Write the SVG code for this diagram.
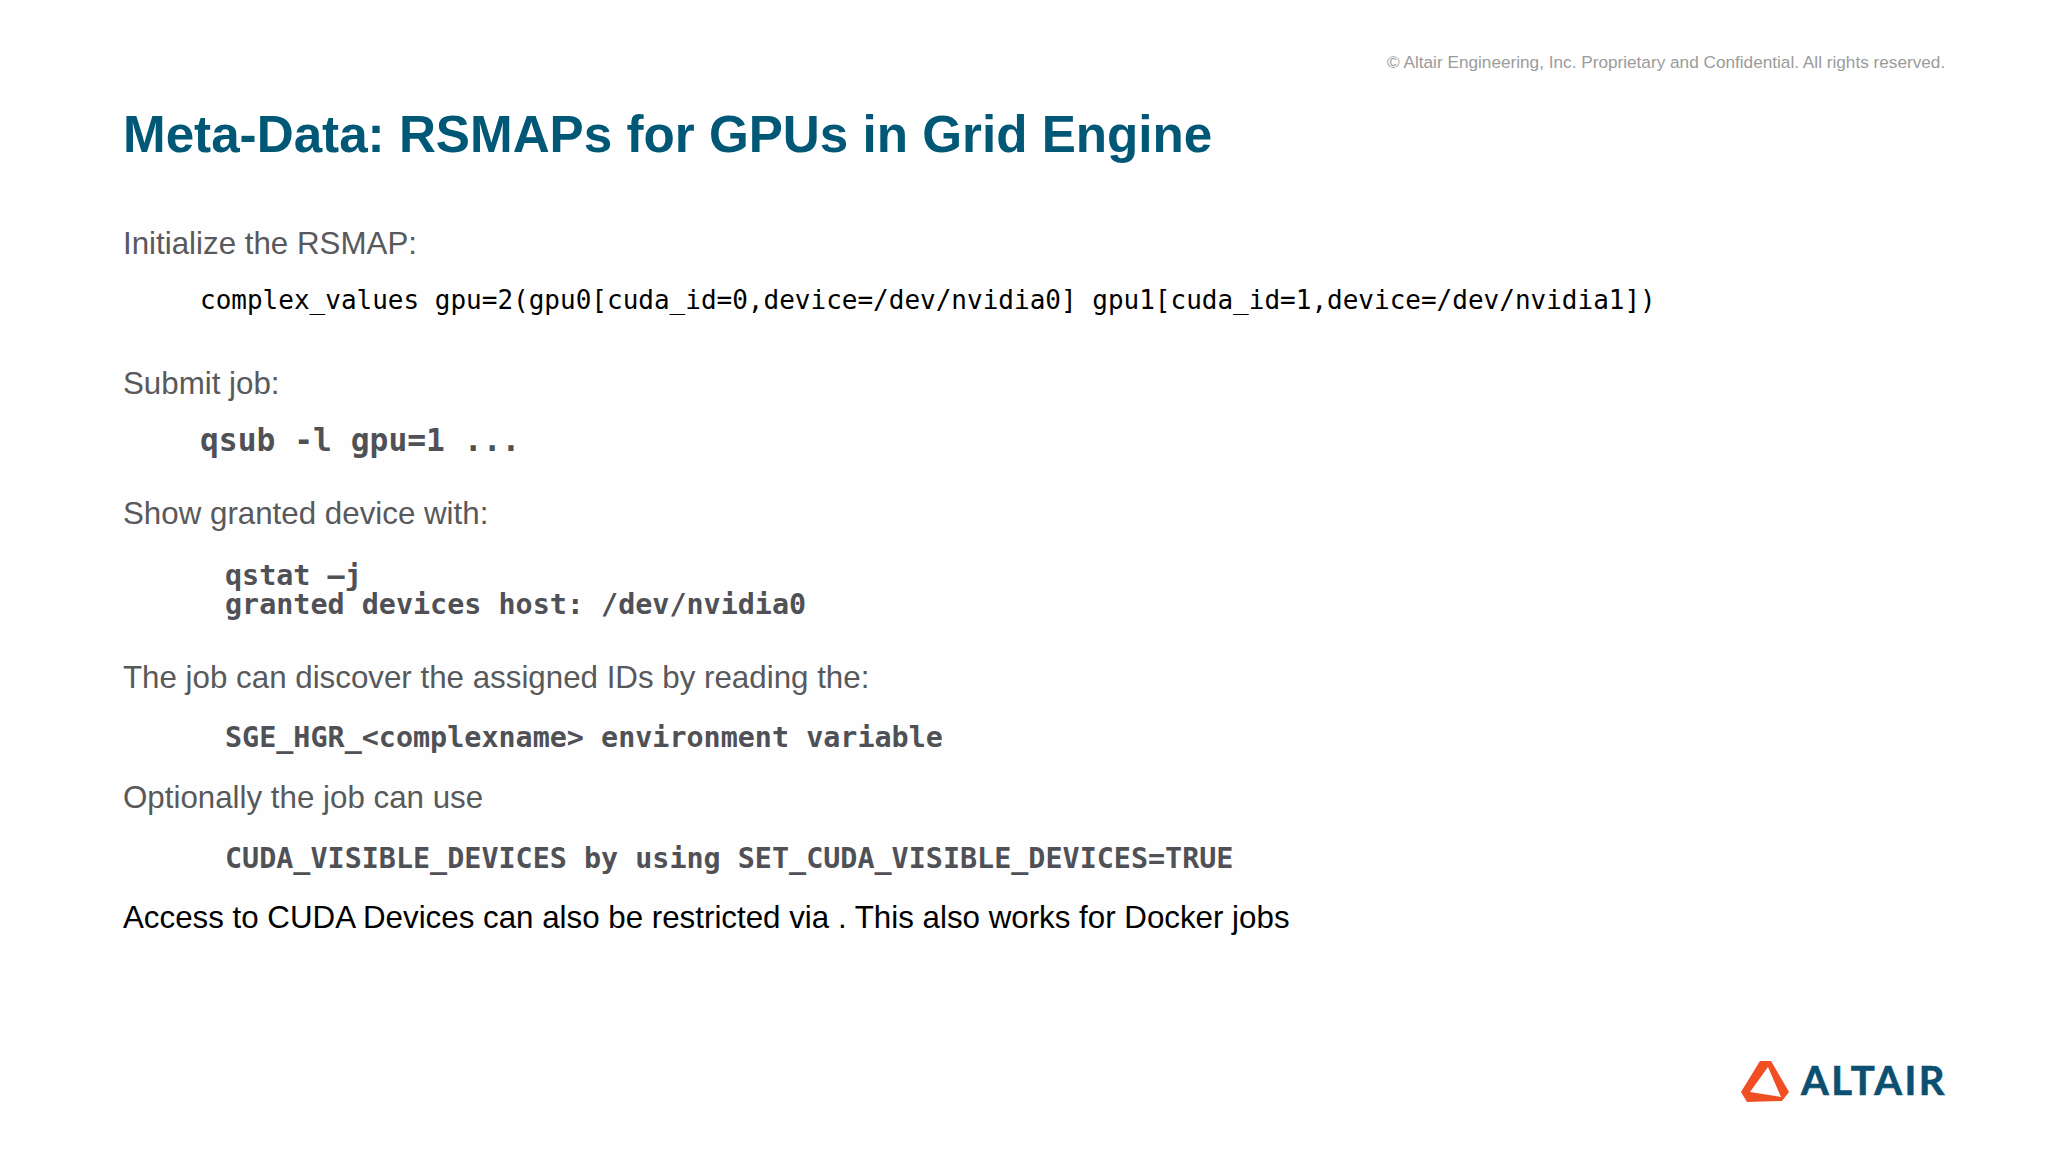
<svg xmlns="http://www.w3.org/2000/svg" width="2048" height="1152" viewBox="0 0 2048 1152">
<style>
.b{font-family:"Liberation Sans",Arial,sans-serif;font-size:31.3px;fill:#58595b}
.c{font-family:"DejaVu Sans Mono",monospace;font-size:26px;fill:#000}
.m{font-family:"DejaVu Sans Mono",monospace;font-size:28.4px;font-weight:bold;fill:#505156}
</style>
<rect width="2048" height="1152" fill="#ffffff"/>
<rect x="124" y="190" width="1870" height="962" fill="#fefefe"/>
<text x="1387" y="68" style="font-family:'Liberation Sans',Arial,sans-serif;font-size:17.2px;fill:#9b9b9b">© Altair Engineering, Inc. Proprietary and Confidential. All rights reserved.</text>
<text x="123" y="152" style="font-family:'Liberation Sans',Arial,sans-serif;font-size:51.2px;font-weight:bold;fill:#005776">Meta-Data: RSMAPs for GPUs in Grid Engine</text>
<text class="b" x="123" y="254">Initialize the RSMAP:</text>
<text class="c" x="200" y="309">complex_values gpu=2(gpu0[cuda_id=0,device=/dev/nvidia0] gpu1[cuda_id=1,device=/dev/nvidia1])</text>
<text class="b" x="123" y="394">Submit job:</text>
<text class="m" x="200" y="451" style="font-size:31.3px">qsub -l gpu=1 ...</text>
<text class="b" x="123" y="524">Show granted device with:</text>
<text class="m" x="225" y="585">qstat –j</text>
<text class="m" x="225" y="614">granted devices host: /dev/nvidia0</text>
<text class="b" x="123" y="688">The job can discover the assigned IDs by reading the:</text>
<text class="m" x="225" y="747">SGE_HGR_&lt;complexname&gt; environment variable</text>
<text class="b" x="123" y="808">Optionally the job can use</text>
<text class="m" x="225" y="868">CUDA_VISIBLE_DEVICES by using SET_CUDA_VISIBLE_DEVICES=TRUE</text>
<text class="b" x="123" y="928" style="fill:#000">Access to CUDA Devices can also be restricted via . This also works for Docker jobs</text>
<path fill="#f04e23" fill-rule="evenodd" d="M1760 1061L1771 1061L1789 1092L1782 1101L1747 1102L1741 1092ZM1768 1067L1750 1092L1781 1097Z"/>
<text x="1801" y="1095" style="font-family:Lato,sans-serif;font-size:40px;font-weight:bold;fill:#0b4f71;stroke:#0b4f71;stroke-width:0.6px;letter-spacing:2.4px">ALTAIR</text>
</svg>
